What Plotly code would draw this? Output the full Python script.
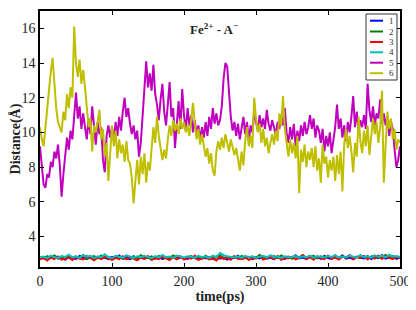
import plotly.graph_objects as go

# ---------------- data ----------------
t_fine = [i * 2.5 for i in range(201)]     # time grid for series 5, 6 (ps)
t_coarse = [i * 5 for i in range(101)]     # time grid for series 1-4 (ps)

s1 = [2.74, 2.81, 2.69, 2.77, 2.85, 2.72, 2.79, 2.66, 2.83, 2.75,
      2.70, 2.88, 2.76, 2.71, 2.80, 2.67, 2.84, 2.73, 2.78, 2.69,
      2.82, 2.75, 2.90, 2.71, 2.77, 2.68, 2.86, 2.74, 2.79, 2.72,
      2.81, 2.66, 2.76, 2.84, 2.70, 2.78, 2.73, 2.87, 2.69, 2.80,
      2.75, 2.71, 2.83, 2.77, 2.68, 2.82, 2.74, 2.79, 2.70, 2.85,
      2.72, 2.78, 2.67, 2.81, 2.75, 2.89, 2.71, 2.76, 2.83, 2.69,
      2.80, 2.74, 2.86, 2.72, 2.78, 2.68, 2.84, 2.75, 2.70, 2.81,
      2.77, 2.92, 2.73, 2.79, 2.69, 2.85, 2.74, 2.80, 2.71, 2.88,
      2.76, 2.70, 2.83, 2.75, 2.91, 2.72, 2.79, 2.68, 2.84, 2.77,
      2.73, 2.87, 2.70, 2.81, 2.75, 2.93, 2.72, 2.78, 2.85, 2.71, 2.80]

s2 = [2.80, 2.73, 2.86, 2.77, 2.91, 2.75, 2.82, 2.70, 2.88, 2.79,
      2.84, 2.76, 2.93, 2.72, 2.81, 2.87, 2.74, 2.90, 2.78, 2.83,
      2.71, 2.86, 2.79, 2.75, 2.89, 2.77, 2.84, 2.73, 2.92, 2.80,
      2.76, 2.85, 2.72, 2.88, 2.78, 2.82, 2.74, 2.90, 2.79, 2.86,
      2.73, 2.81, 2.87, 2.75, 2.83, 2.70, 2.89, 2.77, 2.84, 2.78,
      2.92, 2.74, 2.82, 2.79, 2.86, 2.72, 2.88, 2.76, 2.81, 2.85,
      2.77, 2.94, 2.73, 2.83, 2.79, 2.87, 2.75, 2.90, 2.78, 2.84,
      2.71, 2.86, 2.80, 2.93, 2.76, 2.82, 2.88, 2.74, 2.85, 2.79,
      2.83, 2.77, 2.91, 2.73, 2.86, 2.80, 2.89, 2.75, 2.82, 2.78,
      2.87, 2.72, 2.84, 2.90, 2.76, 2.81, 2.94, 2.77, 2.85, 2.79, 2.83]

s3 = [2.68, 2.75, 2.62, 2.80, 2.70, 2.85, 2.66, 2.73, 2.78, 2.64,
      2.82, 2.71, 2.67, 2.88, 2.74, 2.63, 2.79, 2.69, 2.84, 2.72,
      2.65, 2.77, 2.70, 2.86, 2.68, 2.81, 2.74, 2.63, 2.79, 2.71,
      2.87, 2.66, 2.76, 2.69, 2.83, 2.73, 2.64, 2.80, 2.70, 2.85,
      2.67, 2.78, 2.72, 2.89, 2.65, 2.76, 2.81, 2.68, 2.74, 2.62,
      2.83, 2.71, 2.77, 2.66, 2.86, 2.73, 2.69, 2.80, 2.64, 2.78,
      2.72, 2.87, 2.67, 2.75, 2.82, 2.70, 2.88, 2.65, 2.79, 2.73,
      2.84, 2.68, 2.76, 2.91, 2.71, 2.80, 2.66, 2.86, 2.74, 2.69,
      2.90, 2.72, 2.78, 2.67, 2.85, 2.75, 2.92, 2.70, 2.81, 2.76,
      2.88, 2.68, 2.83, 2.73, 2.90, 2.71, 2.86, 2.77, 2.69, 2.84, 2.75]

s4 = [2.78, 2.84, 2.74, 2.90, 2.80, 2.76, 2.87, 2.82, 2.95, 2.79,
      2.86, 2.77, 2.92, 2.83, 2.88, 2.75, 2.85, 2.81, 2.97, 2.80,
      2.76, 2.89, 2.83, 2.78, 2.91, 2.84, 2.77, 2.86, 2.80, 2.88,
      2.82, 2.75, 2.87, 2.79, 2.93, 2.81, 2.85, 2.77, 2.90, 2.83,
      2.79, 2.86, 2.82, 2.78, 2.88, 2.80, 2.84, 2.76, 2.89, 2.81,
      3.05, 2.92, 2.86, 2.83, 2.79, 2.84, 2.77, 2.88, 2.81, 2.85,
      2.78, 2.83, 2.87, 2.80, 2.92, 2.79, 2.84, 2.76, 2.86, 2.82,
      2.80, 2.88, 2.78, 2.85, 2.81, 2.90, 2.77, 2.86, 2.83, 2.79,
      2.87, 2.82, 2.91, 2.78, 2.85, 2.80, 2.89, 2.84, 2.79, 2.93,
      2.81, 2.86, 2.78, 2.90, 2.83, 2.88, 2.80, 2.95, 2.84, 2.87, 2.82]

s5 = [9.2, 8.0, 7.0, 6.8, 7.6, 7.4, 8.3, 8.0, 8.9, 8.5,
      9.3, 8.1, 6.3, 7.6, 8.9, 9.7, 9.0, 10.1, 9.6, 10.9,
      12.3, 10.8, 11.5, 10.2, 11.1, 10.3, 9.6, 10.8, 9.9, 11.5,
      10.2, 9.3, 10.6, 9.9, 10.3, 8.4, 7.7, 9.8, 10.4, 9.7,
      10.3, 9.5, 10.6, 9.8, 10.9, 10.1, 11.2, 12.0, 10.9, 11.4,
      10.5, 9.9, 10.4, 9.6, 10.1, 8.6, 9.4, 11.3, 12.5, 14.1,
      12.6, 13.4, 12.4, 13.9, 12.2, 11.6, 10.7, 11.9, 12.8, 11.2,
      10.4, 11.6, 12.9, 10.9, 11.4, 9.1, 10.6, 11.8, 10.2, 12.5,
      11.0, 10.1, 11.4, 10.4, 11.0, 10.0, 10.7, 9.9, 10.4, 9.6,
      10.3, 9.7, 10.6, 9.8, 10.9, 10.2, 11.4, 10.5, 11.1, 10.4,
      10.7, 11.5, 13.1, 14.0, 13.8, 12.2, 10.9, 10.1, 10.6, 9.8,
      10.5, 9.6, 10.2, 10.9, 9.9, 10.6, 9.5, 10.4, 10.0, 11.2,
      10.6, 10.1, 11.0, 10.3, 10.8, 10.2, 11.3, 10.5, 10.1, 10.7,
      10.3, 9.8, 10.6, 10.2, 11.0, 10.4, 11.4, 10.0, 9.4, 10.3,
      9.6, 10.5, 9.2, 10.1, 9.5, 10.4, 9.8, 10.6, 9.9, 10.3,
      11.0, 10.2, 10.8, 9.7, 10.4, 10.1, 9.4, 10.2, 8.9, 9.8,
      9.2, 10.0, 8.8, 9.6, 10.3, 11.6, 10.2, 10.8, 9.7, 10.4,
      9.5, 10.6, 10.0, 10.9, 12.1, 10.3, 11.2, 10.1, 10.7, 10.3,
      11.0, 10.2, 12.8, 11.3, 10.6, 11.5, 10.4, 11.1, 10.8, 11.9,
      10.5, 11.1, 10.4, 10.9, 9.8, 10.6, 10.2, 9.0, 8.0, 8.4,
      9.2]

s6 = [10.3, 9.6, 9.2, 10.4, 11.5, 12.8, 13.5, 14.3, 12.6, 11.4,
      10.6, 10.3, 10.0, 11.2, 10.7, 12.2, 11.4, 12.6, 12.0, 16.1,
      14.0, 13.2, 14.2, 12.8, 13.6, 12.6, 11.2, 10.3, 10.8, 8.9,
      10.4, 10.0, 10.6, 11.3, 9.6, 10.2, 8.6, 9.4, 7.2, 8.8,
      10.4, 9.2, 10.1, 8.5, 9.6, 8.8, 9.3, 8.3, 9.5, 8.4,
      8.2, 7.4, 5.9, 7.2, 8.4, 7.0, 8.6, 7.6, 8.8, 7.1,
      8.3, 7.8, 9.3, 10.3, 9.4, 10.9, 9.8, 9.2, 8.4, 9.0,
      8.5, 9.6, 10.4, 9.8, 10.7, 10.1, 10.5, 9.9, 10.8, 10.2,
      10.6, 10.0, 10.4, 9.8, 11.0, 11.7, 10.5, 9.6, 10.2, 9.3,
      9.9, 9.2, 8.6, 9.1, 8.2, 8.8, 7.8, 7.5, 8.9, 9.5,
      9.0, 9.7, 9.1, 9.9, 9.3, 8.9, 9.6, 9.2, 8.7, 9.1,
      8.3, 7.8, 8.9, 8.1, 9.5, 10.3, 9.2, 9.8, 9.1, 12.0,
      10.8, 10.0, 10.5, 9.4, 10.2, 9.2, 9.7, 8.8, 9.4, 9.9,
      9.3, 10.1, 9.5, 11.1, 10.4, 12.1, 10.2, 9.4, 8.6, 9.6,
      8.8, 9.4, 8.5, 9.8, 6.5, 9.0, 8.3, 9.3, 8.0, 8.9,
      8.4, 9.1, 8.0, 9.2, 7.8, 8.5, 7.1, 9.3, 8.2, 8.6,
      7.4, 8.4, 7.8, 8.6, 7.2, 8.7, 7.6, 8.9, 6.6, 9.3,
      10.2, 9.1, 9.8, 8.9, 7.7, 9.4, 8.6, 10.9, 9.5, 8.8,
      10.1, 9.2, 10.4, 8.7, 9.6, 10.8, 9.9, 10.6, 9.4, 10.3,
      12.4, 7.1, 9.2, 11.2, 10.2, 10.8, 9.6, 10.2, 9.0, 9.6,
      9.4]

series_names = ["1", "2", "3", "4", "5", "6"]
series_colors = ["#0000ff", "#008000", "#ff0000", "#00bfbf", "#bf00bf", "#bfbf00"]
series_data = [(t_coarse, s1), (t_coarse, s2), (t_coarse, s3), (t_coarse, s4),
               (t_fine, s5), (t_fine, s6)]

x_ticks = [0, 100, 200, 300, 400, 500]
y_ticks = [4, 6, 8, 10, 12, 14, 16]

# ---------------- figure ----------------
W, H = 416, 310
OFF = 8                      # page body margin in the browser
# target plot box on screen: x 40..400, y 11..267
L = 40 - OFF
T = 11 - OFF
R = W - (400 - OFF)
B = H - (267 - OFF)
FONT = "Liberation Serif"

fig = go.Figure()
for (tx, ty), name, col in zip(series_data, series_names, series_colors):
    fig.add_trace(go.Scatter(x=tx, y=ty, mode="lines", name=name,
                             line=dict(color=col, width=2), showlegend=False))

axis_common = dict(showline=True, linecolor="black", linewidth=1.5, mirror="ticks",
                   ticks="inside", ticklen=4, tickwidth=1.2, tickcolor="black",
                   showgrid=False, zeroline=False,
                   tickfont=dict(family=FONT, size=14, color="#222"))

fig.update_xaxes(range=[0, 500], tickvals=x_ticks, **axis_common,
                 title=dict(text="<b>time(ps)</b>", standoff=4,
                            font=dict(family=FONT, size=14, color="#222")))
fig.update_yaxes(range=[2.24, 17.0], tickvals=y_ticks, **axis_common,
                 title=dict(text="<b>Distance(Å)</b>", standoff=8,
                            font=dict(family=FONT, size=14, color="#222")))

pw, ph = W - L - R, H - T - B


def px(xs):
    return (xs - OFF - L) / pw


def py(ys):
    return (H - B - (ys - OFF)) / ph


shapes = []
annotations = []

# title inside plot
annotations.append(dict(x=px(214), y=py(29), xref="paper", yref="paper",
                        text="<b>Fe<sup>2+</sup> - A<sup>\u2212</sup></b>", showarrow=False,
                        font=dict(family=FONT, size=13, color="#222"),
                        xanchor="center", yanchor="middle"))

# compact legend box
shapes.append(dict(type="rect", xref="paper", yref="paper",
                   x0=px(366), x1=px(397), y0=py(80), y1=py(14),
                   line=dict(color="#333", width=1), fillcolor="white", layer="above"))
legend_y = [20.7, 31.5, 42.0, 52.3, 62.7, 73.2]
for yy, name, col in zip(legend_y, series_names, series_colors):
    shapes.append(dict(type="line", xref="paper", yref="paper",
                       x0=px(370), x1=px(383), y0=py(yy), y1=py(yy),
                       line=dict(color=col, width=2), layer="above"))
    annotations.append(dict(x=px(391.5), y=py(yy), xref="paper", yref="paper",
                            text=name, showarrow=False,
                            font=dict(family=FONT, size=9, color="#333"),
                            xanchor="center", yanchor="middle"))

fig.update_layout(width=W, height=H, margin=dict(l=L, r=R, t=T, b=B, autoexpand=False),
                  paper_bgcolor="white", plot_bgcolor="white",
                  showlegend=False, shapes=shapes, annotations=annotations)

fig.write_html("out.html")
